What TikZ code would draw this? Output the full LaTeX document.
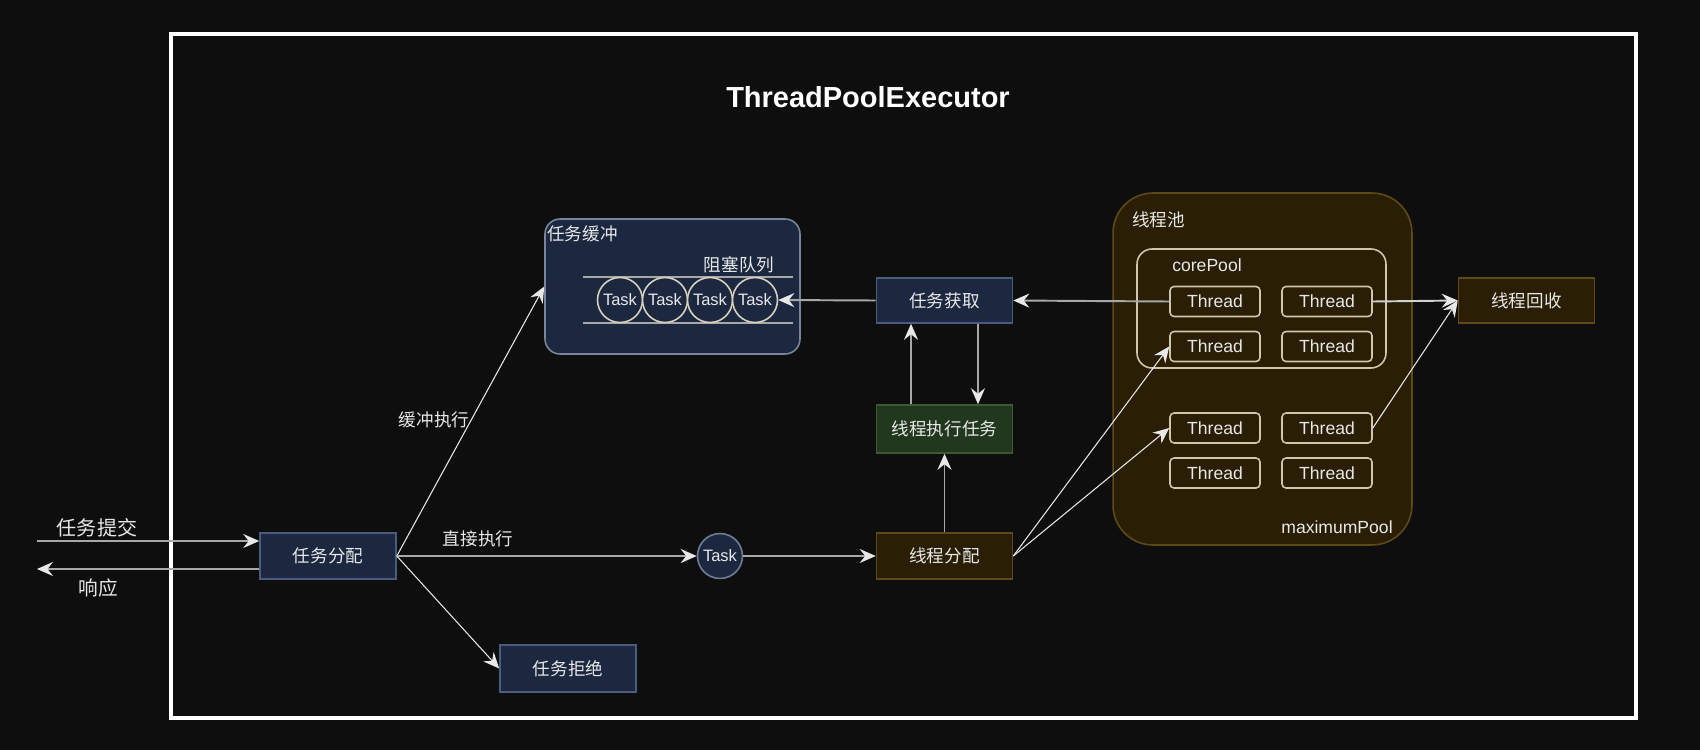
\documentclass[tikz,border=0pt]{standalone}
\usepackage{fontspec}
\setmainfont{Liberation Sans}
\newfontfamily\cjk{Noto Sans CJK SC}
\usepackage{tikz}
\usetikzlibrary{arrows.meta,calc}
\definecolor{bg}{HTML}{0E0E0E}
\definecolor{bluefill}{HTML}{1B2840}
\definecolor{blueline}{HTML}{4A5C7C}
\definecolor{greenfill}{HTML}{21381F}
\definecolor{greenline}{HTML}{3B5A30}
\definecolor{brownfill}{HTML}{2A1E04}
\definecolor{brownline}{HTML}{5E4A17}
\definecolor{beige}{HTML}{CFC6AE}
\definecolor{wire}{HTML}{A8A8A8}
\definecolor{txt}{HTML}{E8E8E8}
\tikzstyle{arrow}     = [draw=wire, line width=1.1pt, -{Stealth[length=3.2mm,width=2.8mm,inset=1.1mm,color=txt]}]
\tikzstyle{thinarrow} = [draw=txt, line width=0.6pt, -{Stealth[length=3.2mm,width=2.8mm,inset=1.1mm,color=txt]}]
\tikzstyle{queue}     = [draw=wire, line width=1.1pt]
\tikzset{
	box/.style={line width=0.9pt, minimum width=2.72cm, minimum height=0.92cm, text=txt, font=\cjk\fontsize{10}{12}\selectfont},
	bluebox/.style={box, draw=blueline, fill=bluefill},
	greenbox/.style={box, draw=greenline, fill=greenfill},
	brownbox/.style={box, draw=brownline, fill=brownfill},
	thread/.style={draw=beige, fill=brownfill, rounded corners=0.08cm, line width=0.9pt, minimum width=1.8cm, minimum height=0.6cm, text=txt, font=\fontsize{10}{12}\selectfont},
	taskcirc/.style={circle, draw=beige!80!white, fill=bluefill, line width=0.9pt, inner sep=0pt, minimum size=0.9cm, text=txt, font=\fontsize{9.4}{11}\selectfont},
	lbl/.style={text=txt, inner sep=0pt, font=\cjk\fontsize{10}{12}\selectfont},
	latinlbl/.style={text=txt, inner sep=0pt, font=\fontsize{10}{12}\selectfont},
}

\begin{document}
\begin{tikzpicture}[x=0.02cm, y=-0.02cm]
	\fill[bg] (0,0) rectangle (1700,750);
	\useasboundingbox (0,0) rectangle (1700,750);
	\draw[white, line width=2.2pt] (171,34) rectangle (1636,718);
	\node[text=white, font=\bfseries\fontsize{16.5}{20}\selectfont] (title) at (868,97) {ThreadPoolExecutor};

	\node[bluebox, draw=blueline!75!white, rounded corners=0.3cm, minimum width=5.1cm, minimum height=2.7cm] (buf) at (672.5,286.5) {};
	\node[lbl, anchor=west] (buflbl) at (547,234) {任务缓冲};
	\node[lbl] (queuelbl) at (739,265) {阻塞队列};
	\draw[queue] (583,277) -- (793,277);
	\draw[queue] (583,323) -- (793,323);
	\foreach \i/\x in {1/620,2/665,3/710,4/755}
		\node[taskcirc] (t\i) at (\x,300) {Task};

	\node[bluebox, minimum height=0.9cm] (fetch) at (944.5,300.5) {任务获取};
	\node[greenbox, minimum height=0.96cm] (exec) at (944.5,429) {线程执行任务};
	\node[brownbox] (alloc) at (944.5,556) {线程分配};
	\node[bluebox] (dispatch) at (328,556) {任务分配};
	\node[bluebox, minimum height=0.94cm] (reject) at (568,668.5) {任务拒绝};
	\node[taskcirc, draw=blueline!80!white] (task) at (720,556) {Task};

	\node[draw=brownline, fill=brownfill, line width=0.9pt, rounded corners=0.8cm, minimum width=5.98cm, minimum height=7.04cm] (pool) at (1262.5,369) {};
	\node[lbl, anchor=west] (poollbl) at (1132,220) {线程池};
	\node[draw=beige, line width=0.9pt, rounded corners=0.3cm, minimum width=4.98cm, minimum height=2.38cm] (core) at (1261.5,308.5) {};
	\node[latinlbl] (corelbl) at (1207,265) {corePool};
	\foreach \r/\y in {1/301.5,2/346.5,3/428,4/473}
		\foreach \c/\x in {1/1215,2/1327}
			\node[thread] (th\r\c) at (\x,\y) {Thread};
	\node[latinlbl] (maxlbl) at (1337,527) {maximumPool};
	\node[brownbox, minimum height=0.9cm] (recycle) at (1526.5,300.5) {线程回收};

	\coordinate (submit) at (37,541);
	\coordinate (reply) at (37,569);
	\draw[arrow] (submit) -- (dispatch.west |- submit);
	\draw[arrow] (dispatch.west |- reply) -- (reply);
	\node[lbl, font=\cjk\fontsize{11.4}{13}\selectfont] (submitlbl) at (97,528) {任务提交};
	\node[lbl, font=\cjk\fontsize{11.2}{13}\selectfont] (replylbl) at (98,588) {响应};

	\draw[thinarrow] (dispatch.east) -- (buf.west);
	\node[lbl] (buflinelbl) at (434,420) {缓冲执行};
	\draw[arrow] (dispatch.east) -- (task.west);
	\node[lbl] (directlbl) at (478,539) {直接执行};
	\draw[thinarrow] (dispatch.east) -- (reject.west);
	\draw[arrow] (task.east) -- (alloc.west);

	\draw[arrow] (fetch.west) -- (t4.east);
	\draw[arrow] (th11.west) -- (fetch.east);
	\draw[arrow] ([xshift=-0.67cm]exec.north) -- ([xshift=-0.67cm]fetch.south);
	\draw[arrow] ([xshift=0.67cm]fetch.south) -- ([xshift=0.67cm]exec.north);
	\draw[arrow] (alloc.north) -- (exec.south);
	\draw[thinarrow] (alloc.east) -- (th21.west);
	\draw[thinarrow] (alloc.east) -- (th31.west);
	\draw[arrow, draw=txt!90!black] (th12.east) -- (recycle.west);
	\draw[thinarrow] (th32.east) -- (recycle.west);
\end{tikzpicture}
\end{document}
